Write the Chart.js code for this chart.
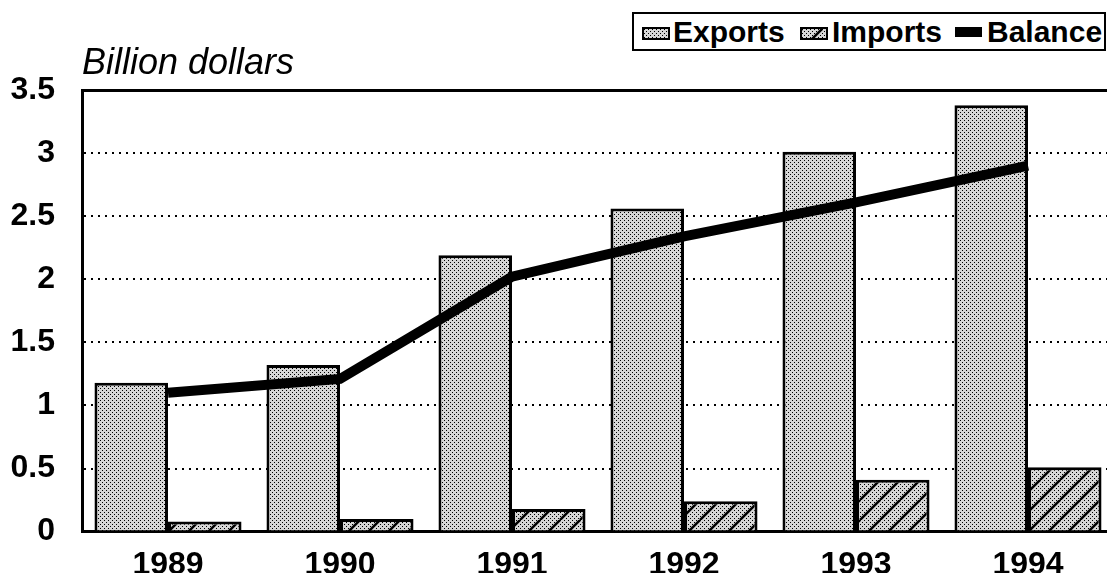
<!DOCTYPE html>
<html>
<head>
<meta charset="utf-8">
<script src="https://cdn.jsdelivr.net/npm/chart.js@4"></script>
<style>
  html, body { margin:0; padding:0; background:#fff; overflow:hidden; width:1107px; height:573px; }
  #wrap { position:relative; width:1116px; height:598px; }
  #chart { position:absolute; left:0; top:0; }
  .ytitle { position:absolute; left:82px; top:44px; font:italic 36px "Liberation Sans", Arial, sans-serif; line-height:36px; color:#000; white-space:nowrap; }
  #legend { position:absolute; left:632px; top:12px; width:470px; height:35px; border:2px solid #000; background:#fff; font:bold 30px "Liberation Sans", Arial, sans-serif; line-height:30px; color:#000; }
  #legend .sw { position:absolute; top:13px; width:24px; height:9px; border:2px solid #000; }
  #legend .ln { position:absolute; top:13px; width:27px; height:10px; background:#000; }
  #legend .tx { position:absolute; top:3px; white-space:nowrap; }
</style>
</head>
<body>
<div id="wrap">
  <canvas id="chart" width="1116" height="598"></canvas>
  <div class="ytitle">Billion dollars</div>
  <div id="legend">
    <span class="sw" id="swExp" style="left:8px"></span><span class="tx" style="left:39px">Exports</span>
    <span class="sw" id="swImp" style="left:166px"></span><span class="tx" style="left:198px">Imports</span>
    <span class="ln" style="left:321px"></span><span class="tx" style="left:353px">Balance</span>
  </div>
</div>
<script>
// values (billion dollars)
const years = ['1989', '1990', '1991', '1992', '1993', '1994'];
const exportsVals = [1.18, 1.32, 2.19, 2.56, 3.01, 3.38];
const importsVals = [0.08, 0.10, 0.18, 0.24, 0.41, 0.51];
const balanceVals = [1.10, 1.21, 2.02, 2.34, 2.61, 2.90];
const yTicks = [0, 0.5, 1, 1.5, 2, 2.5, 3, 3.5];

const FONT = '"Liberation Sans", Arial, sans-serif';

// grey stipple, optionally with / hatching on top
function makeTile(hatch){
  const c = document.createElement('canvas');
  c.width = 20; c.height = 20;
  const g = c.getContext('2d');
  g.fillStyle = '#d6d6d6';
  g.fillRect(0, 0, 20, 20);
  g.fillStyle = '#000';
  for(let y = 0; y < 20; y += 2){
    for(let x = (y % 4 === 0 ? 0 : 2); x < 20; x += 4){
      g.fillRect(x, y, 1, 1);
    }
  }
  if(hatch){
    g.strokeStyle = '#000';
    g.lineWidth = 2.5;
    [-20, 0, 20].forEach(k => {
      g.beginPath();
      g.moveTo(k, 20);
      g.lineTo(k + 20, 0);
      g.stroke();
    });
  }
  return c;
}

const ctx = document.getElementById('chart').getContext('2d');
const expTile = makeTile(false);
const impTile = makeTile(true);
const expPattern = ctx.createPattern(expTile, 'repeat');
const impPattern = ctx.createPattern(impTile, 'repeat');

document.getElementById('swExp').style.backgroundImage = `url(${expTile.toDataURL()})`;
document.getElementById('swImp').style.backgroundImage = `url(${impTile.toDataURL()})`;

new Chart(ctx, {
  type: 'bar',
  data: {
    labels: years,
    datasets: [
      {
        label: 'Exports',
        data: exportsVals,
        backgroundColor: expPattern,
        borderColor: '#000',
        borderWidth: 3,
        categoryPercentage: 0.855,
        barPercentage: 1.0,
        order: 1
      },
      {
        label: 'Imports',
        data: importsVals,
        backgroundColor: impPattern,
        borderColor: '#000',
        borderWidth: 3,
        categoryPercentage: 0.855,
        barPercentage: 1.0,
        order: 1
      },
      {
        type: 'line',
        label: 'Balance',
        data: balanceVals,
        borderColor: '#000',
        backgroundColor: '#000',
        borderWidth: 10,
        pointRadius: 0,
        tension: 0,
        order: 0
      }
    ]
  },
  options: {
    responsive: false,
    animation: false,
    layout: { padding: { top: 90, right: 2, left: 0, bottom: 0 } },
    plugins: {
      legend: { display: false },
      tooltip: { enabled: false }
    },
    scales: {
      x: {
        grid: { display: false, drawTicks: false },
        border: { display: true, color: '#000', width: 3 },
        ticks: {
          color: '#000',
          padding: 14,
          font: { family: FONT, size: 32, weight: 'bold' }
        }
      },
      y: {
        min: 0,
        max: 3.5,
        afterFit: s => { s.width = 82; },
        afterBuildTicks: s => { s.ticks = yTicks.map(v => ({ value: v })); },
        grid: {
          drawTicks: false,
          color: c => (c.tick && c.tick.value === 0) ? 'rgba(0,0,0,0)' : '#000',
          lineWidth: c => (c.tick && c.tick.value === 3.5) ? 3 : 2
        },
        border: {
          display: true,
          color: '#000',
          width: 3,
          dash: c => (c.tick && c.tick.value === 3.5) ? [] : [2, 5]
        },
        ticks: {
          color: '#000',
          padding: 27,
          font: { family: FONT, size: 32, weight: 'bold' },
          callback: v => String(v)
        }
      }
    }
  }
});
</script>
</body>
</html>
